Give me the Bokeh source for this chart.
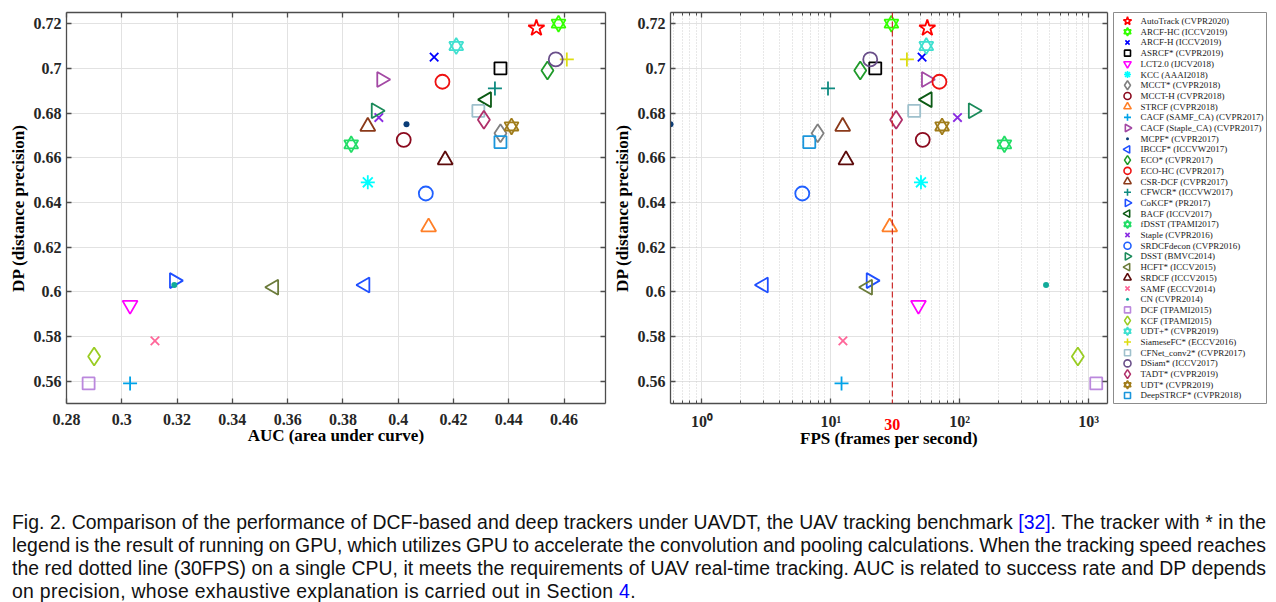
import numpy as np
from bokeh.plotting import figure
from bokeh.models import (Range1d, FixedTicker, CustomJSTickFormatter, LinearAxis, LogAxis,
                          Span, Div, ColumnDataSource, Grid)
from bokeh.layouts import row, column
from bokeh.embed import file_html
from bokeh.resources import INLINE

# ---------------- data ----------------
names = ["AutoTrack (CVPR2020)", "ARCF-HC (ICCV2019)", "ARCF-H (ICCV2019)", "ASRCF* (CVPR2019)",
         "LCT2.0 (IJCV2018)", "KCC (AAAI2018)", "MCCT* (CVPR2018)", "MCCT-H (CVPR2018)",
         "STRCF (CVPR2018)", "CACF (SAMF_CA) (CVPR2017)", "CACF (Staple_CA) (CVPR2017)",
         "MCPF* (CVPR2017)", "IBCCF* (ICCVW2017)", "ECO* (CVPR2017)", "ECO-HC (CVPR2017)",
         "CSR-DCF (CVPR2017)", "CFWCR* (ICCVW2017)", "CoKCF* (PR2017)", "BACF (ICCV2017)",
         "fDSST (TPAMI2017)", "Staple (CVPR2016)", "SRDCFdecon (CVPR2016)", "DSST (BMVC2014)",
         "HCFT* (ICCV2015)", "SRDCF (ICCV2015)", "SAMF (ECCV2014)", "CN (CVPR2014)",
         "DCF (TPAMI2015)", "KCF (TPAMI2015)", "UDT+* (CVPR2019)", "SiameseFC* (ECCV2016)",
         "CFNet_conv2* (CVPR2017)", "DSiam* (ICCV2017)", "TADT* (CVPR2019)", "UDT* (CVPR2019)",
         "DeepSTRCF* (CVPR2018)"]
auc = [0.450, 0.458, 0.413, 0.437, 0.303, 0.389, 0.437, 0.402, 0.411, 0.303, 0.394,
       0.403, 0.388, 0.454, 0.416, 0.389, 0.435, 0.319, 0.432, 0.383, 0.393, 0.410,
       0.392, 0.355, 0.417, 0.312, 0.319, 0.288, 0.290, 0.421, 0.461, 0.429, 0.457,
       0.431, 0.441, 0.437]
dp = [0.718, 0.720, 0.705, 0.700, 0.594, 0.649, 0.671, 0.668, 0.629, 0.559, 0.695,
      0.675, 0.603, 0.699, 0.694, 0.674, 0.691, 0.605, 0.686, 0.666, 0.678, 0.644,
      0.681, 0.602, 0.659, 0.578, 0.603, 0.559, 0.571, 0.710, 0.704, 0.681, 0.704,
      0.677, 0.674, 0.667]
fps = [56, 29.5, 51, 22.1, 47.8, 50, 7.9, 51.6, 28.6, 12.1, 55,
       0.57, 3.0, 16.9, 69.5, 12.35, 9.5, 20.5, 56, 222, 96, 6.0,
       127, 19.3, 13.1, 12.4, 467, 1145, 824, 55, 38.9, 44.3, 20.2,
       32.1, 72.9, 6.8]

auc_ticks = [0.28, 0.30, 0.32, 0.34, 0.36, 0.38, 0.40, 0.42, 0.44, 0.46]
dp_ticks = [0.56, 0.58, 0.60, 0.62, 0.64, 0.66, 0.68, 0.70, 0.72]
fps_ticks = [1, 10, 100, 1000]
fps_tick_labels = ["10\u2070", "10\u00b9", "10\u00b2", "10\u00b3"]
realtime_fps = 30

# ---------------- styles ----------------
shapes = ["star", "hexagram", "x", "square", "inverted_triangle", "asterisk", "diamond", "circle",
          "triangle", "cross", "tri_right", "dot", "tri_left", "diamond", "circle", "triangle",
          "cross", "tri_right", "tri_left", "hexagram", "x", "circle", "tri_right", "tri_left",
          "triangle", "x", "dot", "square", "diamond", "hexagram", "cross", "square", "circle",
          "diamond", "hexagram", "square"]
colors = ["#ff0000", "#33ff00", "#0000ff", "#000000", "#ff00ff", "#00ffff", "#808080", "#8b0a1e",
          "#ff7f27", "#00a2e8", "#a349a4", "#0b3d78", "#1f4fff", "#1f9a2a", "#ee1111", "#8b3a1a",
          "#0e8a80", "#1f4fff", "#0b5a14", "#22dd66", "#8a2be2", "#2060ff", "#1a8a5a", "#6b7b3a",
          "#5c0a0a", "#ff6699", "#11aa99", "#bb88dd", "#99cc22", "#40e0d0", "#dddd11", "#9ec0cc",
          "#6a4f8a", "#b0306a", "#a07c1a", "#1a96dc"]
SIZE = {"circle": 14, "square": 12, "diamond": 18, "triangle": 15, "inverted_triangle": 15,
        "tri_right": 15, "tri_left": 15, "x": 12, "cross": 14, "asterisk": 14, "star": 17,
        "hexagram": 14, "dot": 6}

SERIF = "Liberation Serif"
AX = "#4d4d4d"


def draw_marker(p, src, xf, yf, shape, color, scale=1.0, lw=1.8):
    s = SIZE[shape] * scale
    kw = dict(source=src, x=xf, y=yf, line_color=color, line_width=lw, fill_color=None)
    if shape == "hexagram":
        p.scatter(marker="triangle", size=s, **kw)
        p.scatter(marker="inverted_triangle", size=s, **kw)
    elif shape == "tri_right":
        p.scatter(marker="triangle", size=s, angle=-np.pi / 2, **kw)
    elif shape == "tri_left":
        p.scatter(marker="triangle", size=s, angle=np.pi / 2, **kw)
    elif shape == "dot":
        p.scatter(source=src, x=xf, y=yf, marker="circle", size=s, fill_color=color,
                  line_color=color, line_width=0)
    else:
        p.scatter(marker=shape, size=s, **kw)


def style_axis(ax):
    ax.axis_line_color = AX
    ax.axis_line_width = 1.3
    ax.major_tick_line_color = AX
    ax.major_tick_line_width = 1.3
    ax.major_tick_in = 5
    ax.major_tick_out = 0
    ax.minor_tick_line_color = AX
    ax.minor_tick_in = 3
    ax.minor_tick_out = 0
    ax.major_label_text_font = SERIF
    ax.major_label_text_font_style = "bold"
    ax.major_label_text_font_size = "16px"
    ax.major_label_text_color = "#262626"
    ax.axis_label_text_font = SERIF
    ax.axis_label_text_font_style = "bold"
    ax.axis_label_text_font_size = "17px"
    ax.axis_label_text_color = "#000000"
    ax.axis_label_standoff = 3
    ax.major_label_standoff = 5


def blank_axis(ax):
    style_axis(ax)
    ax.formatter = CustomJSTickFormatter(code="return ''")
    ax.major_label_text_font_size = "1px"
    ax.major_label_standoff = 0


num_fmt = CustomJSTickFormatter(code="return (Math.round(tick*100)/100).toString();")

H = 457

# ---------------- left plot ----------------
p1 = figure(width=609, height=H, x_range=Range1d(0.28, 0.475),
            y_range=Range1d(0.55, 0.725), toolbar_location=None, output_backend="svg",
            min_border_left=66, min_border_right=4, min_border_top=12, min_border_bottom=47)
p1.outline_line_color = None
p1.xaxis.axis_label = "AUC (area under curve)"
p1.yaxis.axis_label = "DP (distance precision)"
for ax in p1.xaxis + p1.yaxis:
    style_axis(ax)
p1.xaxis.ticker = FixedTicker(ticks=auc_ticks)
p1.yaxis.ticker = FixedTicker(ticks=dp_ticks)
p1.xaxis.formatter = num_fmt
p1.yaxis.formatter = num_fmt
p1.xaxis.major_label_standoff = 10
p1.xaxis.axis_label_standoff = -2
top1 = LinearAxis(ticker=FixedTicker(ticks=auc_ticks))
right1 = LinearAxis(ticker=FixedTicker(ticks=dp_ticks))
blank_axis(top1)
blank_axis(right1)
p1.add_layout(top1, "above")
p1.add_layout(right1, "right")
p1.grid.grid_line_color = "#e2e2e2"
p1.grid.grid_line_width = 1

# ---------------- right plot ----------------
fps_minor = [m * 10.0 ** e for e in range(-1, 4) for m in range(2, 10)]
p2 = figure(width=502, height=H, x_axis_type="log", x_axis_location=None,
            x_range=Range1d(0.57, 1400),
            y_range=Range1d(0.55, 0.725), toolbar_location=None, output_backend="svg",
            min_border_left=54, min_border_right=4, min_border_top=12, min_border_bottom=54)
p2.outline_line_color = None
p2.yaxis.axis_label = "DP (distance precision)"
for ax in p2.yaxis:
    style_axis(ax)
p2.yaxis.ticker = FixedTicker(ticks=dp_ticks)
p2.yaxis.formatter = num_fmt

fps_ticker = FixedTicker(ticks=fps_ticks, minor_ticks=fps_minor)
bottom2 = LogAxis(ticker=fps_ticker, formatter=CustomJSTickFormatter(
    args=dict(t=fps_ticks, l=fps_tick_labels),
    code="const i = t.indexOf(tick); return i >= 0 ? l[i] : '';"))
style_axis(bottom2)
bottom2.major_label_standoff = 9
p2.add_layout(bottom2, "below")

# second bottom axis: red "30" mark + axis title
rt_axis = LogAxis(ticker=FixedTicker(ticks=[realtime_fps]),
                  formatter=CustomJSTickFormatter(code="return tick.toString();"))
style_axis(rt_axis)
rt_axis.axis_line_color = None
rt_axis.major_tick_line_color = None
rt_axis.minor_tick_line_color = None
rt_axis.major_label_text_color = "#ff0000"
rt_axis.major_label_standoff = -14
rt_axis.axis_label = "FPS (frames per second)"
rt_axis.axis_label_standoff = -4
p2.add_layout(rt_axis, "below")

top2 = LogAxis(ticker=FixedTicker(ticks=fps_ticks, minor_ticks=fps_minor))
right2 = LinearAxis(ticker=FixedTicker(ticks=dp_ticks))
blank_axis(top2)
blank_axis(right2)
p2.add_layout(top2, "above")
p2.add_layout(right2, "right")
xg = Grid(dimension=0, ticker=fps_ticker, grid_line_color="#e2e2e2",
          minor_grid_line_color="#d0d0d0", minor_grid_line_dash="1 2")
p2.add_layout(xg)
p2.ygrid.grid_line_color = "#e2e2e2"

p2.add_layout(Span(location=realtime_fps, dimension="height", line_color="#cc2a2a",
                   line_dash="6 3", line_width=1.2))

# ---------------- legend (separate panel) ----------------
n = len(names)
p3 = figure(width=156, height=H, x_range=Range1d(0, 154),
            y_range=Range1d(n - 0.25, -0.8), x_axis_type=None, y_axis_type=None,
            toolbar_location=None, output_backend="svg",
            min_border_left=2, min_border_right=0, min_border_top=9, min_border_bottom=52)
p3.outline_line_color = "#8c8c8c"
p3.outline_line_width = 1
p3.grid.visible = False

for i in range(n):
    src = ColumnDataSource(dict(auc=[auc[i]], dp=[dp[i]], fps=[fps[i]], k=[i]))
    draw_marker(p1, src, "auc", "dp", shapes[i], colors[i])
    draw_marker(p2, src, "fps", "dp", shapes[i], colors[i])
    draw_marker(p3, src, 14, "k", shapes[i], colors[i], scale=0.5, lw=1.6)

lsrc = ColumnDataSource(dict(k=list(range(n)), name=names))
p3.text(x=27, y="k", text="name", source=lsrc, text_font=SERIF, text_font_size="9px",
        text_baseline="middle", text_color="#1a1a1a")

J = "text-align:justify;text-align-last:justify;white-space:nowrap;word-spacing:-1px"
caption = (
    "<div style=\"font-family:'Liberation Sans',Arial,sans-serif;font-size:19.4px;"
    "line-height:23px;color:#111;padding-top:49px;padding-left:7px;width:1261px\">"
    f"<div style=\"{J}\">"
    "Fig. 2. Comparison of the performance of DCF-based and deep trackers under UAVDT, the UAV "
    "tracking benchmark <span style=\"color:#0000ff\">[32]</span>. The tracker with * in the</div>"
    f"<div style=\"{J}\">"
    "legend is the result of running on GPU, which utilizes GPU to accelerate the convolution and "
    "pooling calculations. When the tracking speed reaches</div>"
    f"<div style=\"{J}\">"
    "the red dotted line (30FPS) on a single CPU, it meets the requirements of UAV real-time "
    "tracking. AUC is related to success rate and DP depends</div>"
    "<div style=\"white-space:nowrap;letter-spacing:0.3px\">on precision, whose exhaustive "
    "explanation is carried out in Section <span style=\"color:#0000ff\">4</span>.</div></div>")
div = Div(text=caption, width=1268, height=136)

layout = column(row(p1, p2, p3), div)
open("out.html", "w").write(file_html(layout, INLINE))
